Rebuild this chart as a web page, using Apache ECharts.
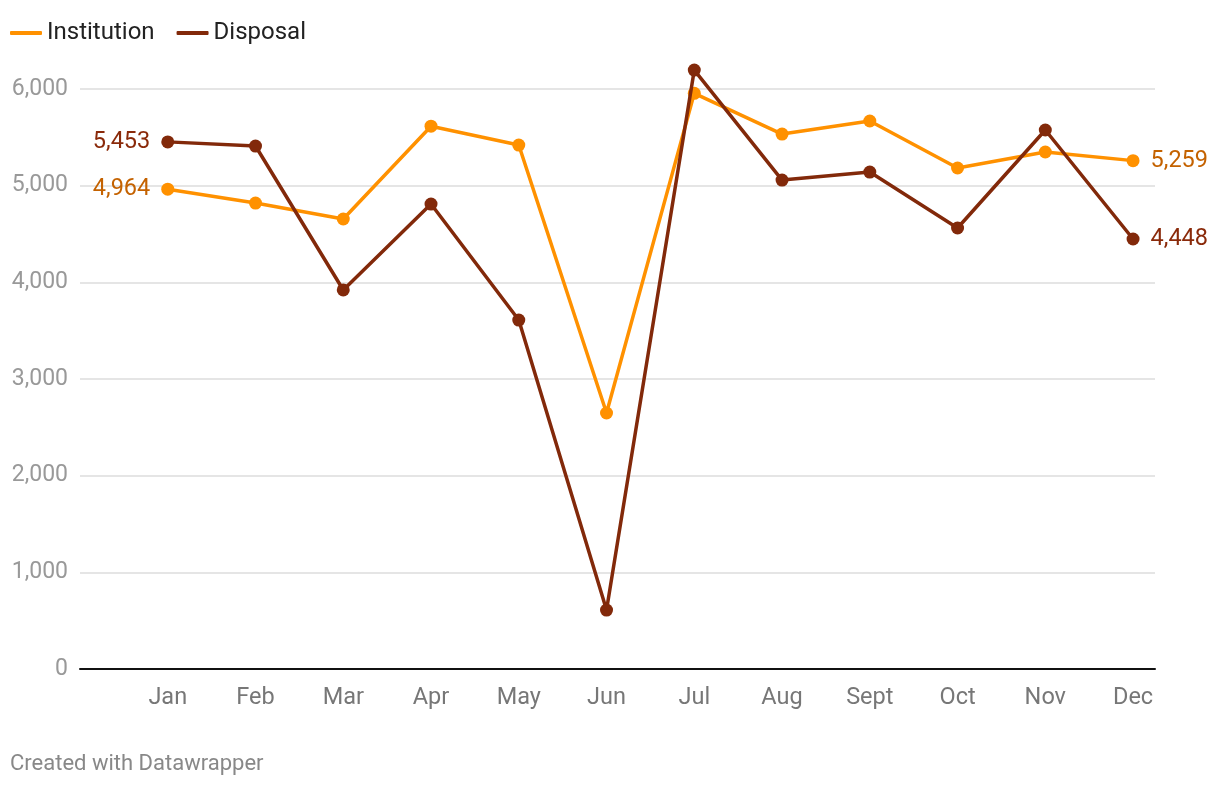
<!DOCTYPE html>
<html>
<head>
<meta charset="utf-8">
<script src="https://cdn.jsdelivr.net/npm/echarts@6/dist/echarts.min.js"></script>
<style>
html,body{margin:0;padding:0;background:#fff;}
#c{width:1220px;height:786px;}
</style>
</head>
<body>
<div id="c"></div>
<script>
var months = ['Jan','Feb','Mar','Apr','May','Jun','Jul','Aug','Sept','Oct','Nov','Dec'];
var institution = [4964, 4820, 4655, 5615, 5420, 2648, 5955, 5534, 5669, 5183, 5348, 5259];
var disposal = [5453, 5410, 3921, 4810, 3610, 610, 6196, 5058, 5141, 4562, 5576, 4448];
var yTicks = [0, 1000, 2000, 3000, 4000, 5000, 6000];

var instLine = '#ff9100', instLabel = '#c46200';
var dispLine = '#82290a', dispLabel = '#8a2a0a';

function build(values, labelColor) {
  return values.map(function (v, i) {
    var item = { value: [i + 1, v] };
    if (i === 0 || i === values.length - 1) {
      item.label = {
        show: true,
        position: i === 0 ? 'left' : 'right',
        distance: 11,
        color: labelColor,
        fontSize: 23.5,
        fontFamily: 'Roboto',
        formatter: function (p) { return p.value[1].toLocaleString('en-US'); }
      };
    }
    return item;
  });
}

var chart = echarts.init(document.getElementById('c'));
chart.setOption({
  animation: false,
  textStyle: { fontFamily: 'Roboto' },
  legend: {
    left: 10, top: 21, padding: 0,
    itemWidth: 32, itemHeight: 4, itemGap: 22,
    icon: 'roundRect',
    textStyle: { fontSize: 24, color: '#222', fontFamily: 'Roboto' },
    data: ['Institution', 'Disposal']
  },
  graphic: [{
    type: 'text', left: 10, top: 753,
    style: { text: 'Created with Datawrapper', fontSize: 22, fill: '#888', fontFamily: 'Roboto' }
  }],
  grid: { left: 80, right: 65, top: 89, bottom: 117, containLabel: false },
  xAxis: {
    type: 'value', min: 0, max: 12.25, interval: 1,
    axisLine: { show: true, lineStyle: { color: '#111', width: 2 } },
    axisTick: { show: false },
    splitLine: { show: false },
    axisLabel: {
      color: '#777', fontSize: 23.5, margin: 17, fontFamily: 'Roboto',
      showMaxLabel: false,
      formatter: function (v) { return (v >= 1 && v <= 12 && v === Math.round(v)) ? months[v - 1] : ''; }
    }
  },
  yAxis: {
    type: 'value', min: yTicks[0], max: yTicks[yTicks.length - 1], interval: 1000,
    axisLine: { show: false },
    axisTick: { show: false },
    splitLine: { lineStyle: { color: '#e5e5e5', width: 2 } },
    axisLabel: {
      color: '#999', fontSize: 23, margin: 12, fontFamily: 'Roboto',
      formatter: function (v) { return v.toLocaleString('en-US'); }
    }
  },
  series: [
    {
      name: 'Institution', type: 'line', clip: false,
      data: build(institution, instLabel),
      symbol: 'circle', symbolSize: 13,
      lineStyle: { color: instLine, width: 3.5 },
      itemStyle: { color: instLine },
      z: 2
    },
    {
      name: 'Disposal', type: 'line', clip: false,
      data: build(disposal, dispLabel),
      symbol: 'circle', symbolSize: 13,
      lineStyle: { color: dispLine, width: 3.5 },
      itemStyle: { color: dispLine },
      z: 3
    }
  ]
});
</script>
</body>
</html>
